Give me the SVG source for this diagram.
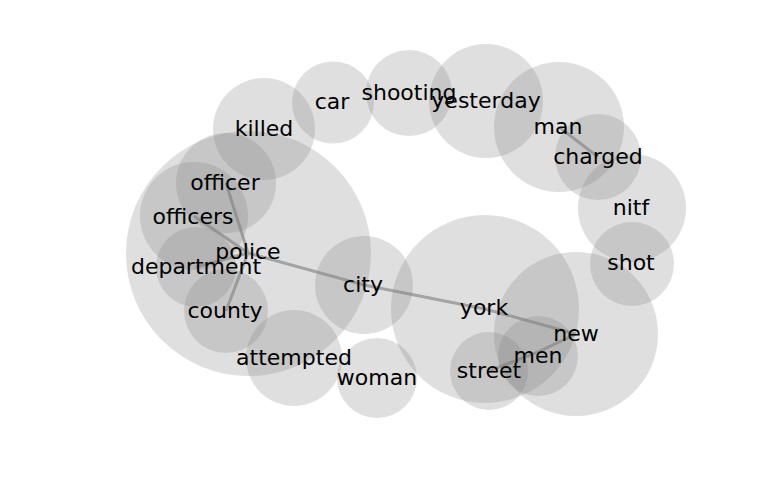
<svg xmlns="http://www.w3.org/2000/svg" width="768" height="500" viewBox="0 0 768 500">
<style>
.c{fill:#808080;fill-opacity:0.25}
.t{font-family:"DejaVu Sans",sans-serif;font-size:22px;fill:#000;text-anchor:middle}
.e{stroke:#b0b0b0;stroke-width:3;fill:none;stroke-linecap:butt}
</style>
<rect width="768" height="500" fill="#fff"/>
<g id="connectors">
<line class="e" x1="248" y1="253" x2="226" y2="183"/>
<line class="e" x1="248" y1="253" x2="194" y2="216"/>
<line class="e" x1="248" y1="253" x2="196" y2="267"/>
<line class="e" x1="248" y1="253" x2="226" y2="311"/>
<line class="e" x1="248" y1="253" x2="364" y2="285"/>
<line class="e" x1="364" y1="285" x2="485" y2="309"/>
<line class="e" x1="485" y1="309" x2="576" y2="334"/>
<line class="e" x1="576" y1="334" x2="538" y2="352"/>
<line class="e" x1="538" y1="352" x2="489" y2="371"/>
<line class="e" x1="559" y1="127" x2="598" y2="157"/>
</g>
<g id="police"><circle class="c" cx="248.5" cy="253.5" r="122.5"/></g>
<g id="killed"><circle class="c" cx="264" cy="129" r="51"/></g>
<g id="car"><circle class="c" cx="333" cy="102.5" r="41"/></g>
<g id="shooting"><circle class="c" cx="409" cy="93" r="43"/></g>
<g id="yesterday"><circle class="c" cx="486" cy="101" r="57"/></g>
<g id="man"><circle class="c" cx="559" cy="127" r="65"/></g>
<g id="charged"><circle class="c" cx="598" cy="157" r="43"/></g>
<g id="nitf"><circle class="c" cx="632" cy="208" r="54"/></g>
<g id="shot"><circle class="c" cx="632" cy="264" r="42"/></g>
<g id="new"><circle class="c" cx="576" cy="334" r="82"/></g>
<g id="york"><circle class="c" cx="485" cy="309" r="94"/></g>
<g id="men"><circle class="c" cx="538" cy="356" r="40"/></g>
<g id="street"><circle class="c" cx="489" cy="371" r="39"/></g>
<g id="woman"><circle class="c" cx="377" cy="378" r="40"/></g>
<g id="attempted"><circle class="c" cx="294" cy="358" r="48"/></g>
<g id="city"><circle class="c" cx="364" cy="285" r="49"/></g>
<g id="county"><circle class="c" cx="226" cy="311" r="42"/></g>
<g id="department"><circle class="c" cx="196" cy="267" r="40"/></g>
<g id="officers"><circle class="c" cx="194" cy="216" r="54"/></g>
<g id="officer"><circle class="c" cx="226" cy="183" r="50"/></g>
<g id="labels">
<text class="t" x="264" y="136">killed</text>
<text class="t" x="332" y="109">car</text>
<text class="t" x="409" y="100">shooting</text>
<text class="t" x="486" y="108">yesterday</text>
<text class="t" x="558" y="134">man</text>
<text class="t" x="598" y="164">charged</text>
<text class="t" x="631" y="215">nitf</text>
<text class="t" x="631" y="270">shot</text>
<text class="t" x="225" y="190">officer</text>
<text class="t" x="193" y="224">officers</text>
<text class="t" x="248" y="259">police</text>
<text class="t" x="196" y="274">department</text>
<text class="t" x="225" y="318">county</text>
<text class="t" x="363" y="292">city</text>
<text class="t" x="484" y="315">york</text>
<text class="t" x="576" y="341">new</text>
<text class="t" x="538" y="363">men</text>
<text class="t" x="489" y="378">street</text>
<text class="t" x="294" y="365">attempted</text>
<text class="t" x="377" y="385">woman</text>
</g>
</svg>
